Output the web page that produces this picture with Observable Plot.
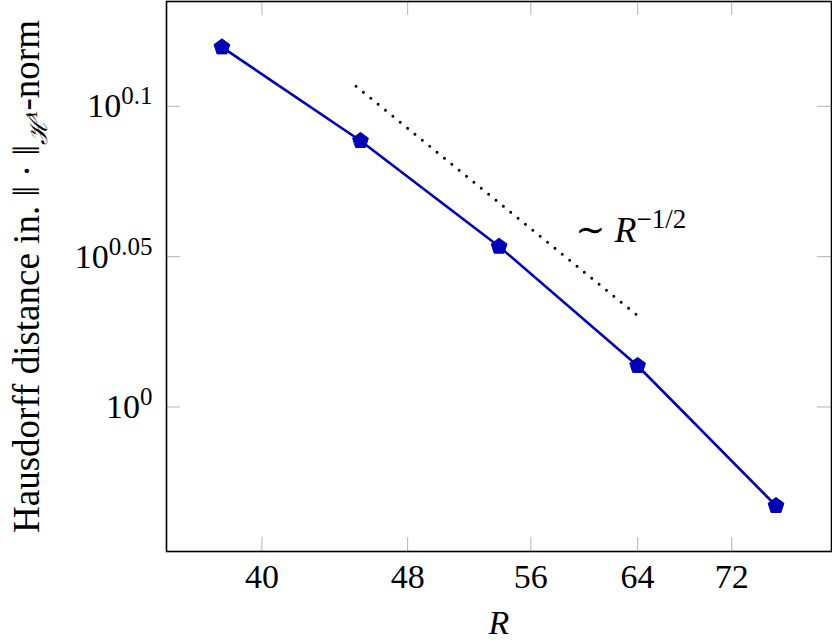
<!DOCTYPE html>
<html><head><meta charset="utf-8">
<script src="https://cdn.jsdelivr.net/npm/d3@7"></script>
<script src="https://cdn.jsdelivr.net/npm/@observablehq/plot@0.6"></script>
<style>
body{margin:0;background:#fff}
svg text, svg tspan{font-family:"Liberation Serif","DejaVu Serif",serif !important}
g[aria-label="x-axis label"] text{font-style:italic}
</style>
</head><body><div id="chart"></div>
<script>
// data
const R = [38.05, 45.25, 53.82, 64, 76.1];
const dist = [1.3173, 1.2262, 1.1308, 1.0321, 0.9271];
const refR = [45, 64];
const refDist = [1.2785, 1.0725];
const xTicks = [40, 48, 56, 64, 72];
const yTickExp = ["0", "0.05", "0.1"];
const refLabelPos = [{R: 59.2, d: 1.1345}];
const refLabelBase = "∼ ";
const refLabelVar = "R";
const refLabelExp = "−1/2";
const yTitleMain = "Hausdorff distance in. ‖ · ‖";
const yTitleSub = "ℋ̇";
const yTitleSup = "1";
const yTitleEnd = "-norm";
const xTitle = "R";

const W = 832, H = 644;
const mL = 166, mR = 1, mT = 1, mB = 93;
const frameW = W - mL - mR, frameH = H - mT - mB;
const xDomain = [35.5, 81.57], yDomain = [0.8952, 1.3642];
const pts = R.map((r, i) => ({R: r, d: dist[i]}));
const ref = refR.map((r, i) => ({R: r, d: refDist[i]}));
const yTickVals = yTickExp.map(e => Math.pow(10, +e));
const blue = "#0000B4", tickGray = "#b4b4b4";

const pentagon = {
  draw(ctx, size) {
    const r = Math.sqrt(size / Math.PI);
    for (let i = 0; i < 5; i++) {
      const a = -Math.PI / 2 + i * 2 * Math.PI / 5;
      const px = r * Math.cos(a), py = r * Math.sin(a);
      if (i) ctx.lineTo(px, py); else ctx.moveTo(px, py);
    }
    ctx.closePath();
  }
};

const chart = Plot.plot({
  width: W, height: H,
  marginLeft: mL, marginRight: mR, marginTop: mT, marginBottom: mB,
  style: {fontFamily: "Liberation Serif, DejaVu Serif, serif", fontSize: "34px", background: "#fff", color: "#000"},
  x: {type: "log", domain: xDomain},
  y: {type: "log", domain: yDomain},
  marks: [
    Plot.ruleX(xTicks, {stroke: tickGray, strokeWidth: 1, insetTop: frameH - 14}),
    Plot.ruleX(xTicks, {stroke: tickGray, strokeWidth: 1, insetBottom: frameH - 14}),
    Plot.ruleY(yTickVals, {stroke: tickGray, strokeWidth: 1, insetRight: frameW - 14}),
    Plot.ruleY(yTickVals, {stroke: tickGray, strokeWidth: 1, insetLeft: frameW - 14}),
    Plot.axisX(xTicks, {tickSize: 0, tickPadding: 12, tickFormat: d => String(d), label: xTitle, labelAnchor: "center", labelArrow: "none", labelOffset: 82}),
    Plot.axisY(yTickVals, {tickSize: 0, tickPadding: 14, tickFormat: d => "10^" + yTickExp[yTickVals.indexOf(d)], label: null}),
    Plot.line(ref, {x: "R", y: "d", stroke: "#000", strokeWidth: 3, strokeDasharray: "0 9.5", strokeLinecap: "round"}),
    Plot.line(pts, {x: "R", y: "d", stroke: blue, strokeWidth: 2.6}),
    Plot.dot(pts, {x: "R", y: "d", symbol: pentagon, r: 8.3, fill: blue, stroke: blue, strokeWidth: 1}),
    Plot.text(refLabelPos, {x: "R", y: "d", text: () => refLabelBase + refLabelVar, textAnchor: "start", lineAnchor: "bottom", fontSize: 36}),
    Plot.text([yTitleMain], {frameAnchor: "left", dx: -139, rotate: -90, textAnchor: "middle", text: d => d, fontSize: 37}),
    Plot.frame({stroke: "#000", strokeWidth: 1.6})
  ]
});
document.getElementById("chart").appendChild(chart);

// superscripts / subscripts as tspans
chart.querySelectorAll('g[aria-label="y-axis tick label"] text').forEach(t => {
  const [b, e] = t.textContent.split("^");
  t.innerHTML = `<tspan>${b}</tspan><tspan dy="-13" font-size="25px">${e}</tspan>`;
});
const textGroups = chart.querySelectorAll('g[aria-label="text"]');
textGroups[0].querySelectorAll("text").forEach(t => {
  t.innerHTML = `<tspan>${refLabelBase}</tspan><tspan font-style="italic">${refLabelVar}</tspan><tspan dy="-14" font-size="27px">${refLabelExp}</tspan>`;
});
textGroups[1].querySelectorAll("text").forEach(t => {
  t.innerHTML = `<tspan>${yTitleMain}</tspan><tspan dy="8" font-size="25px" font-style="italic">${yTitleSub}</tspan><tspan dy="-10" font-size="17px">${yTitleSup}</tspan><tspan dy="2">${yTitleEnd}</tspan>`;
});
</script>
</body></html>
